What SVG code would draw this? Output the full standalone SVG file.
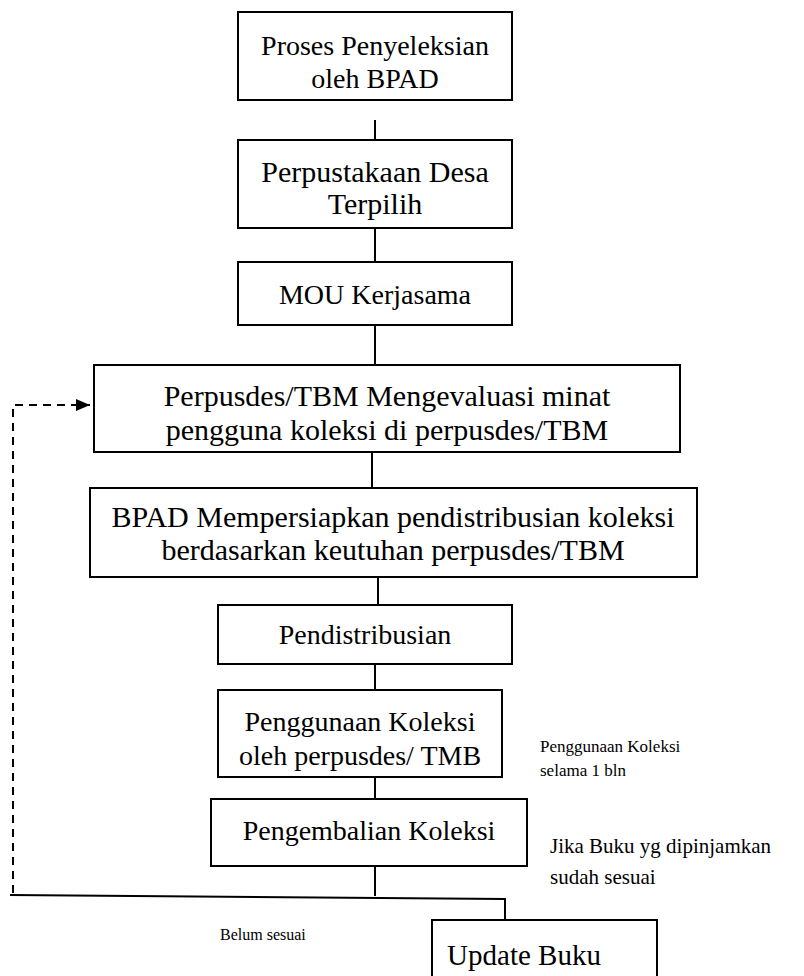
<svg xmlns="http://www.w3.org/2000/svg" width="804" height="976" viewBox="0 0 804 976">
<defs>
<style>
.box{fill:#fff;stroke:#000;stroke-width:2}
.t{font-family:"Liberation Serif","Times New Roman",serif;font-size:28px;fill:#000;text-anchor:middle}
.tw{font-size:30px}
.lbl{font-family:"Liberation Serif","Times New Roman",serif;font-size:17px;fill:#000}
.c{fill:none;stroke:#000;stroke-width:2}
.d{fill:none;stroke:#000;stroke-width:2;stroke-dasharray:8 6}
</style>
<marker id="ah" markerWidth="14" markerHeight="12" refX="14" refY="6" orient="auto" markerUnits="userSpaceOnUse">
<path d="M0,0 L14,6 L0,12 Z" fill="#000"/>
</marker>
</defs>
<rect width="804" height="976" fill="#fff"/>
<g id="connectors">
<line class="c" x1="375" y1="120" x2="375" y2="140"/>
<line class="c" x1="375" y1="228" x2="375" y2="262"/>
<line class="c" x1="375" y1="325" x2="375" y2="365"/>
<line class="c" x1="372" y1="452" x2="372" y2="488"/>
<line class="c" x1="378" y1="577" x2="378" y2="605"/>
<line class="c" x1="375" y1="664" x2="375" y2="690"/>
<line class="c" x1="375" y1="777" x2="375" y2="799"/>
<line class="c" x1="375" y1="866" x2="375" y2="896"/>
<polyline class="c" points="10,895 505,899 505,920" stroke-width="2.5"/>
<polyline class="d" points="13,893 13,405 90,405" marker-end="url(#ah)"/>
</g>
<g id="n1"><rect class="box" x="238" y="12" width="274" height="88"/><text class="t" x="375" y="55">Proses Penyeleksian</text><text class="t" x="375" y="88">oleh BPAD</text></g>
<g id="n2"><rect class="box" x="238" y="140" width="274" height="88"/><text class="t tw" x="375" y="182">Perpustakaan Desa</text><text class="t tw" x="375" y="214">Terpilih</text></g>
<g id="n3"><rect class="box" x="238" y="262" width="274" height="63"/><text class="t" x="375" y="304">MOU Kerjasama</text></g>
<g id="n4"><rect class="box" x="94" y="365" width="586" height="87"/><text class="t tw" x="387" y="406">Perpusdes/TBM Mengevaluasi minat</text><text class="t tw" x="387" y="440">pengguna koleksi di perpusdes/TBM</text></g>
<g id="n5"><rect class="box" x="90" y="488" width="607" height="89"/><text class="t tw" x="393" y="527">BPAD Mempersiapkan pendistribusian koleksi</text><text class="t tw" x="393" y="560">berdasarkan keutuhan perpusdes/TBM</text></g>
<g id="n6"><rect class="box" x="218" y="605" width="294" height="59"/><text class="t" x="365" y="644">Pendistribusian</text></g>
<g id="n7"><rect class="box" x="218" y="690" width="284" height="87"/><text class="t" x="360" y="731">Penggunaan Koleksi</text><text class="t" x="360" y="765">oleh perpusdes/ TMB</text></g>
<g id="n8"><rect class="box" x="211" y="799" width="316" height="67"/><text class="t" x="369" y="840">Pengembalian Koleksi</text></g>
<g id="n9"><rect class="box" x="432" y="920" width="225" height="80"/><text class="t" x="524" y="965" style="font-size:29px">Update Buku</text></g>
<g id="labels">
<text class="lbl" x="540" y="752">Penggunaan Koleksi</text>
<text class="lbl" x="540" y="776">selama 1 bln</text>
<text class="lbl" x="550" y="853" style="font-size:21px">Jika Buku yg dipinjamkan</text>
<text class="lbl" x="550" y="884" style="font-size:21px">sudah sesuai</text>
<text class="lbl" x="220" y="940" style="font-size:16px">Belum sesuai</text>
</g>
</svg>
